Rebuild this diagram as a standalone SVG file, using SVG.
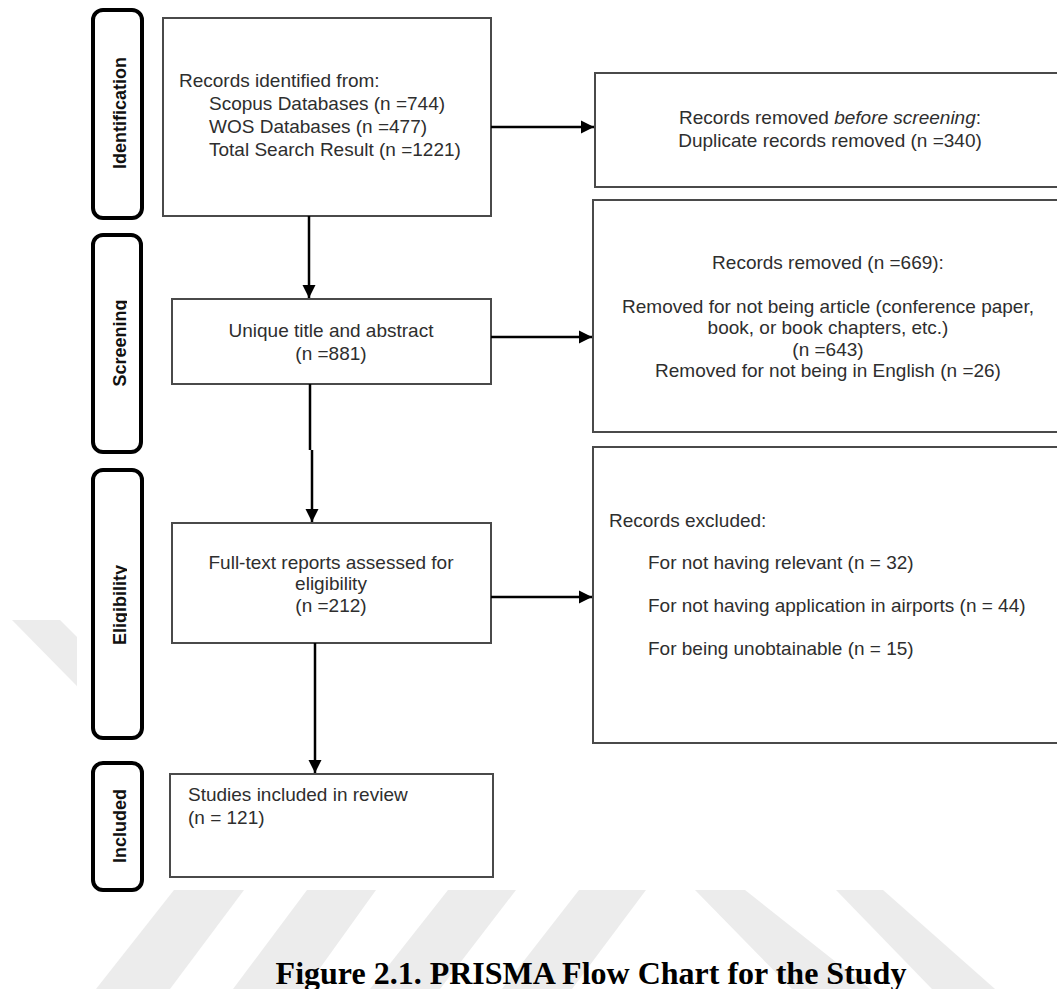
<svg xmlns="http://www.w3.org/2000/svg" width="1057" height="989" viewBox="0 0 1057 989">
  <style>
    .box { fill: #ffffff; stroke: #4a4a4a; stroke-width: 2; }
    .phase { fill: #ffffff; stroke: #000000; stroke-width: 4; }
    .t { font-family: "Liberation Sans", Arial, sans-serif; font-size: 19px; fill: #2e2e2e; }
    .mid { text-anchor: middle; }
    .lbl { font-family: "Liberation Sans", Arial, sans-serif; font-size: 18px; font-weight: bold; fill: #111111; text-anchor: middle; }
    .wire { fill: none; stroke: #000000; stroke-width: 2.5; }
    .wm { fill: #ececec; }
    .cap { font-family: "Liberation Serif", "Times New Roman", serif; font-size: 32px; font-weight: bold; fill: #000000; text-anchor: middle; }
  </style>
  <defs>
    <marker id="head" viewBox="0 0 10 10" refX="10" refY="5" markerWidth="5.4" markerHeight="5.4" markerUnits="strokeWidth" orient="auto">
      <path d="M0,0 L10,5 L0,10 Z" fill="#000000"/>
    </marker>
    <!-- trims the descenders of the rotated phase labels -->
    <clipPath id="lblclip">
      <rect x="90" y="0" width="37" height="989"/>
    </clipPath>
  </defs>

  <!-- page background and watermark stripes -->
  <rect x="0" y="0" width="1057" height="989" fill="#ffffff"/>
  <g id="watermark">
    <polygon class="wm" points="12,620 60,620 130,690 130,740"/>
    <polygon class="wm" points="174,890 244,890 170,989 96,989"/>
    <polygon class="wm" points="307,890 376,890 305,989 233,989"/>
    <polygon class="wm" points="448,890 516,890 440,989 370,989"/>
    <polygon class="wm" points="579,890 646,890 572,989 502,989"/>
    <polygon class="wm" points="695,890 745,890 870,989 792,989"/>
    <polygon class="wm" points="836,890 883,890 995,989 932,989"/>
  </g>
  <!-- chart panel -->
  <rect x="77" y="0" width="980" height="890" fill="#ffffff"/>

  <!-- phase labels -->
  <g id="phase-identification">
    <rect class="phase" x="93" y="10" width="49" height="208" rx="10"/>
    <g clip-path="url(#lblclip)"><text class="lbl" transform="translate(126,113) rotate(-90)">Identification</text></g>
  </g>
  <g id="phase-screening">
    <rect class="phase" x="93" y="235" width="48" height="217" rx="10"/>
    <g clip-path="url(#lblclip)"><text class="lbl" transform="translate(126,343) rotate(-90)">Screening</text></g>
  </g>
  <g id="phase-eligibility">
    <rect class="phase" x="93" y="470" width="49" height="268" rx="10"/>
    <g clip-path="url(#lblclip)"><text class="lbl" transform="translate(126,605) rotate(-90)">Eligibility</text></g>
  </g>
  <g id="phase-included">
    <rect class="phase" x="93" y="763" width="49" height="127" rx="10"/>
    <g clip-path="url(#lblclip)"><text class="lbl" transform="translate(126,826) rotate(-90)">Included</text></g>
  </g>

  <!-- flow boxes -->
  <g id="identified">
    <rect class="box" x="163" y="18" width="328" height="198"/>
    <text class="t" x="179" y="87">Records identified from:</text>
    <text class="t" x="209" y="110">Scopus Databases (n =744)</text>
    <text class="t" x="209" y="133">WOS Databases (n =477)</text>
    <text class="t" x="209" y="156">Total Search Result (n =1221)</text>
  </g>
  <g id="duplicates">
    <rect class="box" x="595" y="73" width="470" height="114"/>
    <text class="t mid" x="830" y="124">Records removed <tspan font-style="italic">before screening</tspan>:</text>
    <text class="t mid" x="830" y="147">Duplicate records removed (n =340)</text>
  </g>
  <g id="unique">
    <rect class="box" x="172" y="299" width="319" height="85"/>
    <text class="t mid" x="331" y="337">Unique title and abstract</text>
    <text class="t mid" x="331" y="360">(n =881)</text>
  </g>
  <g id="removed">
    <rect class="box" x="593" y="200" width="472" height="232"/>
    <text class="t mid" x="828" y="269">Records removed (n =669):</text>
    <text class="t mid" x="828" y="313">Removed for not being article (conference paper,</text>
    <text class="t mid" x="828" y="334">book, or book chapters, etc.)</text>
    <text class="t mid" x="828" y="356">(n =643)</text>
    <text class="t mid" x="828" y="377">Removed for not being in English (n =26)</text>
  </g>
  <g id="fulltext">
    <rect class="box" x="172" y="523" width="319" height="120"/>
    <text class="t mid" x="331" y="569">Full-text reports assessed for</text>
    <text class="t mid" x="331" y="590">eligibility</text>
    <text class="t mid" x="331" y="612">(n =212)</text>
  </g>
  <g id="excluded">
    <rect class="box" x="593" y="447" width="472" height="296"/>
    <text class="t" x="609" y="527">Records excluded:</text>
    <text class="t" x="648" y="569">For not having relevant (n = 32)</text>
    <text class="t" x="648" y="612">For not having application in airports (n = 44)</text>
    <text class="t" x="648" y="655">For being unobtainable (n = 15)</text>
  </g>
  <g id="included">
    <rect class="box" x="170" y="774" width="323" height="103"/>
    <text class="t" x="188" y="801">Studies included in review</text>
    <text class="t" x="188" y="824">(n = 121)</text>
  </g>

  <!-- connectors -->
  <g id="connectors">
    <path class="wire" d="M309,216 V298" marker-end="url(#head)"/>
    <path class="wire" d="M491,127 H594" marker-end="url(#head)"/>
    <path class="wire" d="M491,337 H592" marker-end="url(#head)"/>
    <path class="wire" d="M310,384 V450 M312,450 V522" marker-end="url(#head)"/>
    <path class="wire" d="M491,597 H592" marker-end="url(#head)"/>
    <path class="wire" d="M315,643 V773" marker-end="url(#head)"/>
  </g>

  <!-- caption -->
  <text class="cap" x="591" y="984">Figure 2.1. PRISMA Flow Chart for the Study</text>
</svg>
